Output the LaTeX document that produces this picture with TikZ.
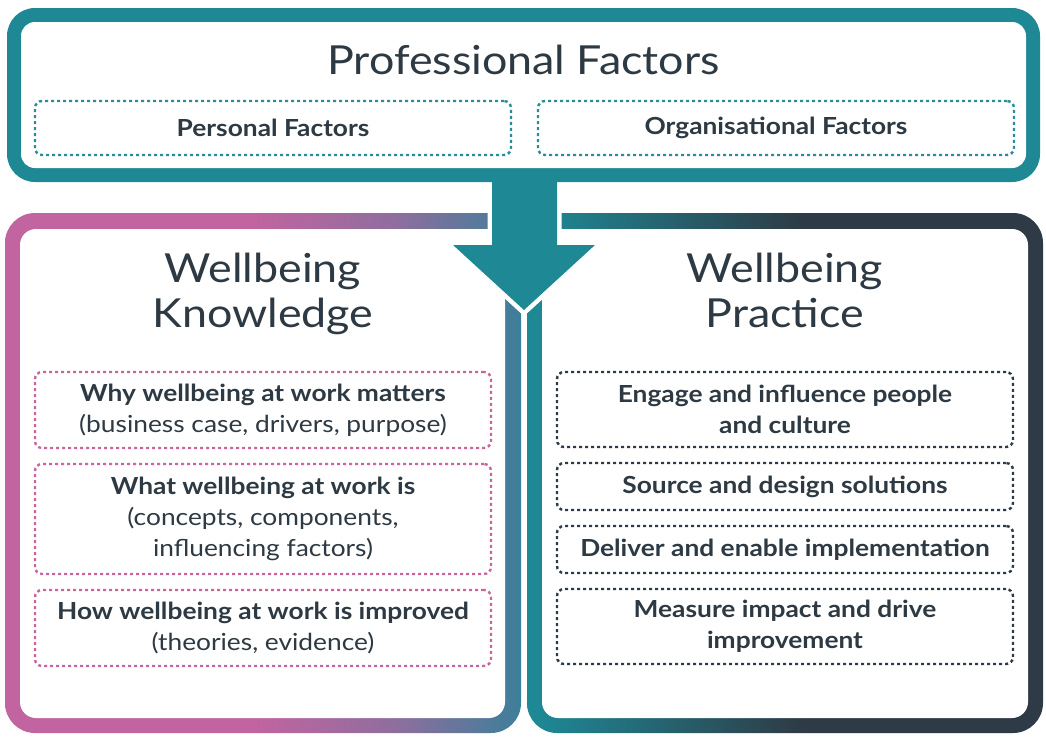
\documentclass[tikz,border=0pt]{standalone}
\usepackage{fontspec}
\setmainfont{Lato}[FakeStretch=1.12]
\usetikzlibrary{positioning}
\definecolor{tealc}{HTML}{1E8895}
\definecolor{inkc}{HTML}{2D3943}
\definecolor{pinkc}{HTML}{C2649F}
\definecolor{purpc}{HTML}{8E6E9E}
\definecolor{bluec}{HTML}{3C7F99}
\definecolor{darkc}{HTML}{2E3A45}
\definecolor{dotpink}{HTML}{C8659F}
\definecolor{dotteal}{HTML}{2A8C96}
\pgfdeclarehorizontalshading{knowshade}{100bp}{color(0bp)=(pinkc); color(25bp)=(pinkc); color(49bp)=(pinkc); color(63bp)=(purpc); color(75bp)=(bluec); color(100bp)=(bluec)}
\pgfdeclarehorizontalshading{practshade}{100bp}{color(0bp)=(tealc); color(26bp)=(tealc); color(52bp)=(darkc); color(100bp)=(darkc)}
\begin{document}
\begin{tikzpicture}[x=1pt,y=-1pt,
  title/.style={text=inkc, align=center, font=\fontsize{40}{45}\selectfont},
  dotbox/.style={rounded corners=7pt, dash pattern=on 3pt off 3pt, line width=2.4pt,
    minimum width=456pt, inner sep=0pt, outer sep=0pt, align=center, text=inkc,
    font=\bfseries\fontsize{23.5}{31}\selectfont},
  factorbox/.style={dotbox, draw=dotteal, minimum width=476pt, minimum height=54pt},
  knowbox/.style={dotbox, draw=dotpink},
  practbox/.style={dotbox, draw=darkc},
  node distance=16pt]
  \useasboundingbox (0,0) rectangle (1046,739);

  \shade[shading=knowshade, rounded corners=30pt] (5,213) rectangle (521,733);
  \fill[white, rounded corners=16pt] (20,229) rectangle (505,718);
  \shade[shading=practshade, rounded corners=30pt] (527,213) rectangle (1043,733);
  \fill[white, rounded corners=16pt] (542,229) rectangle (1028,718);

  \coordinate (SL) at (492,176); \coordinate (SR) at (557,176);
  \coordinate (HL) at (453,245); \coordinate (HR) at (595,245);
  \coordinate (T) at (524,310);
  \fill[tealc, preaction={draw=white, line width=9pt}]
    (SL) -- (SL |- HL) -- (HL) -- (T) -- (HR) -- (SR |- HR) -- (SR) -- cycle;

  \fill[tealc, rounded corners=28pt] (7,8) rectangle (1040,182);
  \fill[white, rounded corners=14pt] (21,22) rectangle (1026,168);

  \node[title] (prof) at (523.5,60) {Professional Factors};
  \node[factorbox] (pers) at (273,128) {Personal Factors};
  \node[factorbox] (orga) at (776,128) {Organisational Factors};

  \node[title, anchor=north] (know) at (263,249.5) {Wellbeing\\Knowledge};
  \node[title, anchor=north] (pract) at (785,249.5) {Wellbeing\\Practice};

  \node[knowbox, minimum height=76pt, anchor=north] (why) at (263,372)
    {Why wellbeing at work matters\\\mdseries(business case, drivers, purpose)};
  \node[knowbox, minimum height=110pt, below=of why] (what)
    {What wellbeing at work is\\\mdseries(concepts, components,\\\mdseries influencing factors)};
  \node[knowbox, minimum height=76pt, below=of what] (how)
    {How wellbeing at work is improved\\\mdseries(theories, evidence)};

  \node[practbox, minimum height=75pt, anchor=north] (engage) at (785,372)
    {Engage and influence people\\and culture};
  \node[practbox, minimum height=47pt, below=of engage] (source) {Source and design solutions};
  \node[practbox, minimum height=47pt, below=of source] (deliver) {Deliver and enable implementation};
  \node[practbox, minimum height=75pt, below=of deliver] (measure)
    {Measure impact and drive\\improvement};
\end{tikzpicture}
\end{document}
